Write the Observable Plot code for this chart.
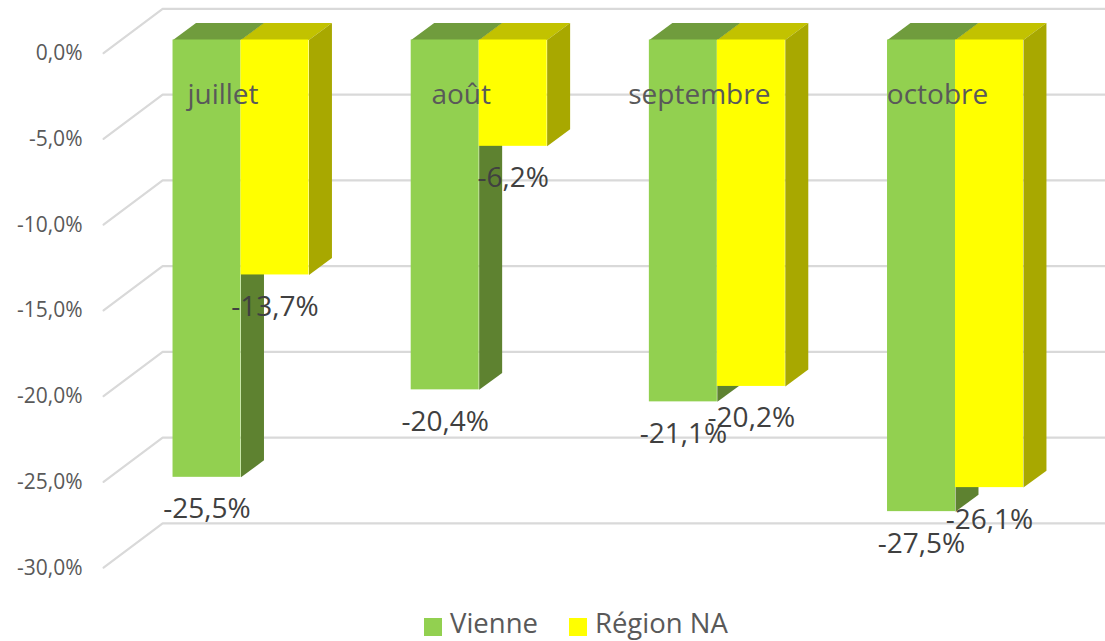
<!DOCTYPE html>
<html lang="fr">
<head>
<meta charset="utf-8">
<script src="https://cdn.jsdelivr.net/npm/d3@7"></script>
<script src="https://cdn.jsdelivr.net/npm/@observablehq/plot@0.6"></script>
<style>
html,body{margin:0;padding:0;background:#fff;overflow:hidden}
#legend{height:36px;display:flex;align-items:center;justify-content:flex-start;padding-left:424px;font-family:"Open Sans",sans-serif;font-size:27.5px;color:#595959;line-height:36px}
#legend .k{width:18px;height:18px;display:inline-block;margin-right:8px;position:relative;top:4px}
#legend .i{display:flex;align-items:center;margin-right:31px}
</style>
</head>
<body>
<div id="chart"></div>
<div id="legend"></div>
<script>
const months = ["juillet", "août", "septembre", "octobre"];
const vienne = [-25.5, -20.4, -21.1, -27.5];
const regionNA = [-13.7, -6.2, -20.2, -26.1];
const ticks = [0, -5, -10, -15, -20, -25, -30];
const seriesNames = ["Vienne", "Région NA"];

const frFmt = (d) => d.toFixed(1).replace(".", ",") + "%";
const bw = 0.2854, ddx = 0.0965, ddy = 0.99;   // bar width and 3D depth, in scale units
const wallFrontX = -0.577, wallBackX = -0.329, wallEndX = 3.63;
const wallFrontY = -0.76, wallBackY = 1.81;

const bars = (vals, off) => vals.map((v, i) => ({ i, v, x1: i + off, x2: i + off + bw }));
const greenBars = bars(vienne, -bw);
const yellowBars = bars(regionNA, 0);

const topFace = (b) => [[b.x1, 0], [b.x2, 0], [b.x2 + ddx, ddy], [b.x1 + ddx, ddy]].map(([x, y]) => ({ x, y, id: b.i }));
const sideFace = (b) => [[b.x2, 0], [b.x2 + ddx, ddy], [b.x2 + ddx, b.v + ddy], [b.x2, b.v]].map(([x, y]) => ({ x, y, id: b.i }));
const poly = (data, fill) => Plot.line(data, { x: "x", y: "y", z: "id", fill, stroke: "none" });

const grid = ticks.flatMap((t) => [
  { x: wallFrontX, y: t + wallFrontY, id: t },
  { x: wallBackX, y: t + wallBackY, id: t },
  { x: wallEndX, y: t + wallBackY, id: t }
]);

const labels = [...greenBars, ...yellowBars];

const chart = Plot.plot({
  width: 1105,
  height: 605,
  marginLeft: 90,
  marginRight: 0,
  marginTop: 0,
  marginBottom: 0,
  style: { fontFamily: '"Open Sans", sans-serif', background: "transparent", overflow: "visible" },
  x: { type: "linear", domain: [0, 3], range: [240.5, 955], axis: null },
  y: { type: "linear", domain: [-30, 0], range: [554, 39.5], axis: null },
  marks: [
    Plot.line(grid, { x: "x", y: "y", z: "id", stroke: "#D9D9D9", strokeWidth: 2.2 }),
    Plot.axisY(ticks, { anchor: "left", tickSize: 0, tickPadding: 8, dy: 13.5, fontSize: 21, fill: "#595959", tickFormat: frFmt, label: null }),
    poly(greenBars.flatMap(topFace), "#709C3D"),
    poly(greenBars.flatMap(sideFace), "#5E8230"),
    poly(yellowBars.flatMap(topFace), "#C2C200"),
    poly(yellowBars.flatMap(sideFace), "#A8A800"),
    Plot.rect(greenBars, { x1: "x1", x2: "x2", y1: 0, y2: "v", fill: "#92D050" }),
    Plot.rect(yellowBars, { x1: "x1", x2: "x2", y1: 0, y2: "v", fill: "#FFFF00" }),
    Plot.text(months, { x: (d, i) => i, y: () => 0, text: (d) => d, dx: -18, dy: 55, fontSize: 28, fill: "#595959" }),
    Plot.text(labels, { x: (d) => (d.x1 + d.x2) / 2, y: "v", text: (d) => frFmt(d.v), dy: 32, fontSize: 28, fill: "#404040" })
  ]
});
document.getElementById("chart").append(chart);
chart.style.display = "block";

const legend = document.getElementById("legend");
[["#92D050", seriesNames[0]], ["#FFFF00", seriesNames[1]]].forEach(([c, n]) => {
  const it = document.createElement("span");
  it.className = "i";
  const k = document.createElement("span");
  k.className = "k";
  k.style.background = c;
  it.append(k, document.createTextNode(n));
  legend.append(it);
});
</script>
</body>
</html>
